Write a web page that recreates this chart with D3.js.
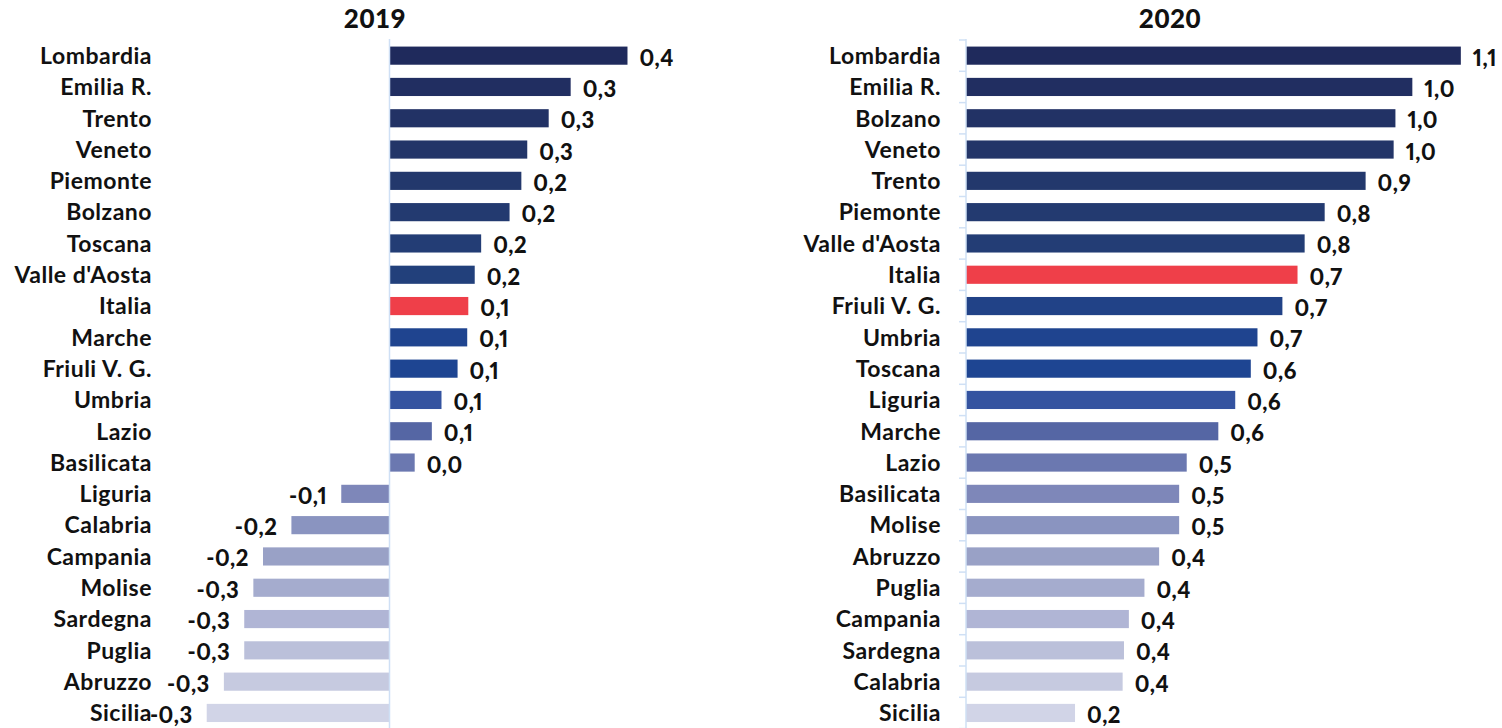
<!DOCTYPE html>
<html>
<head>
<meta charset="utf-8">
<script src="https://cdn.jsdelivr.net/npm/d3@7"></script>
<style>
    body { margin: 0; background: #fff; }
    svg { display: block; font-family: "Lato", "DejaVu Sans", sans-serif; }
    .val { font-variant-numeric: proportional-nums; font-feature-settings: "pnum" 1; }
</style>
</head>
<body>
<div id="chart"></div>
<script>
// Regional values, one list per year (already sorted as in the original)
const years = ["2019", "2020"];

const regions2019 = ["Lombardia", "Emilia R.", "Trento", "Veneto", "Piemonte", "Bolzano", "Toscana",
    "Valle d'Aosta", "Italia", "Marche", "Friuli V. G.", "Umbria", "Lazio", "Basilicata", "Liguria",
    "Calabria", "Campania", "Molise", "Sardegna", "Puglia", "Abruzzo", "Sicilia"];
const values2019 = [0.444, 0.338, 0.297, 0.257, 0.246, 0.224, 0.171, 0.159, 0.147, 0.145, 0.127,
    0.097, 0.079, 0.047, -0.090, -0.183, -0.236, -0.254, -0.271, -0.271, -0.309, -0.341];

const regions2020 = ["Lombardia", "Emilia R.", "Bolzano", "Veneto", "Trento", "Piemonte", "Valle d'Aosta",
    "Italia", "Friuli V. G.", "Umbria", "Toscana", "Liguria", "Marche", "Lazio", "Basilicata", "Molise",
    "Abruzzo", "Puglia", "Campania", "Sardegna", "Calabria", "Sicilia"];
const values2020 = [1.112, 1.003, 0.965, 0.961, 0.898, 0.806, 0.761, 0.745, 0.711, 0.655, 0.640,
    0.605, 0.567, 0.496, 0.479, 0.479, 0.434, 0.401, 0.366, 0.355, 0.352, 0.245];

// bar colour goes with the row position, the national average is red
const rowColors = ["#1f2a5c", "#212e61", "#223265", "#233568", "#23386c", "#233a70", "#233d75",
    "#22407b", "#214287", "#1f448f", "#1e4592", "#3453a0", "#5566a4", "#6b78b0", "#7e87b9",
    "#8a94c0", "#99a1c6", "#a5acce", "#b0b5d5", "#bbc0da", "#c6cae0", "#d1d4e7"];
const italiaColor = "#ef3f49";
const axisColor = "#cfe0f5";

const width = 1502;
const height = 728;

const svg = d3.select("#chart").append("svg")
    .attr("width", width)
    .attr("height", height);

const fmt = v => v.toFixed(1).replace(".", ",");

const panels = [
    { title: years[0], regions: regions2019, values: values2019,
      domain: [-0.35, 0.45], zeroX: 389.5, unit: 536, labelX: 152, titleX: 375, ticks: false },
    { title: years[1], regions: regions2020, values: values2020,
      domain: [0, 1.2], zeroX: 966, unit: 445, labelX: 941, titleX: 1170, ticks: true }
];

panels.forEach(p => {
    const data = p.regions.map((r, i) => ({ region: r, value: p.values[i], row: i }));

    const x = d3.scaleLinear()
        .domain(p.domain)
        .range([p.zeroX + p.domain[0] * p.unit, p.zeroX + p.domain[1] * p.unit]);

    const y = d3.scaleBand()
        .domain(p.regions)
        .range([40, 728.6])
        .paddingInner(0.42)
        .paddingOuter(0.21);

    const g = svg.append("g");

    // title
    g.append("text")
        .attr("x", p.titleX)
        .attr("y", 28)
        .attr("text-anchor", "middle")
        .style("font-size", "26px")
        .style("font-weight", "900")
        .style("letter-spacing", "0.5px")
        .style("fill", "#111")
        .text(p.title);

    // bars
    g.selectAll("rect.bar")
        .data(data)
        .enter()
        .append("rect")
        .attr("class", "bar")
        .attr("x", d => x(Math.min(0, d.value)))
        .attr("width", d => Math.abs(x(d.value) - x(0)))
        .attr("y", d => y(d.region))
        .attr("height", y.bandwidth())
        .attr("fill", d => d.region === "Italia" ? italiaColor : rowColors[d.row]);

    // zero axis line
    const axisG = g.append("g")
        .attr("transform", `translate(${x(0)},0)`);
    axisG.append("line")
        .attr("y1", 39)
        .attr("y2", height)
        .attr("stroke", axisColor)
        .attr("stroke-width", 1.5);
    if (p.ticks) {
        // ticks sit on the band boundaries
        const step = y.step();
        const bounds = d3.range(p.regions.length + 1).map(i => y.range()[0] + i * step);
        axisG.selectAll("line.tk")
            .data(bounds)
            .enter()
            .append("line")
            .attr("class", "tk")
            .attr("x1", -7)
            .attr("x2", 0)
            .attr("y1", d => d)
            .attr("y2", d => d)
            .attr("stroke", axisColor)
            .attr("stroke-width", 1.5);
    }

    // region names
    g.selectAll("text.cat")
        .data(data)
        .enter()
        .append("text")
        .attr("class", "cat")
        .attr("x", p.labelX)
        .attr("y", d => y(d.region) + y.bandwidth() / 2)
        .attr("dy", "0.36em")
        .attr("text-anchor", "end")
        .style("font-size", "23px")
        .style("font-weight", "700")
        .style("letter-spacing", "0.5px")
        .style("fill", "#111")
        .text(d => d.region);

    // value labels
    g.selectAll("text.val")
        .data(data)
        .enter()
        .append("text")
        .attr("class", "val")
        .attr("x", d => d.value < 0 ? x(d.value) - 14 : x(d.value) + 12)
        .attr("y", d => y(d.region) + y.bandwidth() / 2 + 10)
        .attr("text-anchor", d => d.value < 0 ? "end" : "start")
        .style("font-size", "22px")
        .style("font-weight", "900")
        .style("letter-spacing", "0.5px")
        .style("fill", "#111")
        .text(d => fmt(d.value));
});
</script>
</body>
</html>
